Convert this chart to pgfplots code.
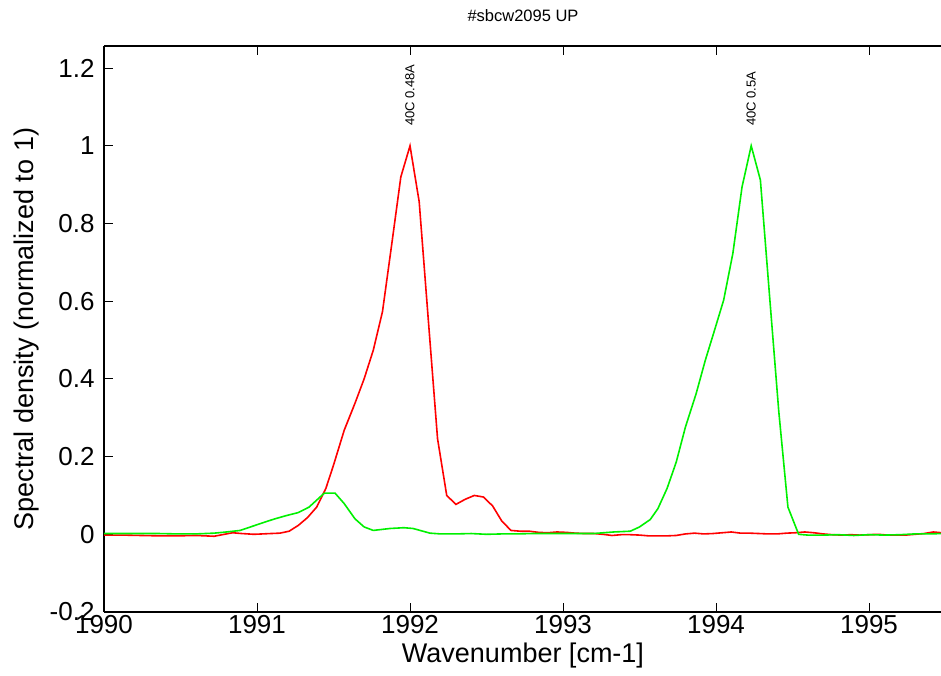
\documentclass[border=0pt]{standalone}
\usepackage{pgfplots}
\pgfplotsset{compat=1.18}
\usepackage{fontspec}
\setmainfont{Liberation Sans}

\definecolor{specred}{RGB}{255,0,0}
\definecolor{specgreen}{RGB}{0,240,0}

\begin{document}
\begin{tikzpicture}
\begin{axis}[
    name=ax,
    scale only axis,
    width=838pt, height=566pt,
    xmin=1990, xmax=1995.477,
    ymin=-0.2, ymax=1.257,
    axis x line=box, axis y line=left,
    axis line style={line width=1.6pt, -},
    y axis line style={-},
    xtick={1990,1991,1992,1993,1994,1995},
    ytick={-0.2,0,0.2,0.4,0.6,0.8,1,1.2},
    tick align=inside,
    major tick length=9pt,
    tick style={line width=0.9pt, black},
    /pgf/number format/1000 sep={},
    /pgf/number format/assume math mode=true,
    tick label style={font=\fontsize{26}{30}\selectfont},
    xticklabel style={yshift=0pt},
    yticklabel style={xshift=-6pt},
    label style={font=\fontsize{27}{32}\selectfont},
    xlabel={Wavenumber [cm-1]},
    ylabel={Spectral density (normalized to 1)},
    xlabel style={at={(axis description cs:0.5,-0.076)}, anchor=center},
    ylabel style={at={(axis description cs:-0.092,0.5)}, anchor=center},
    title={\#sbcw2095 UP},
    every axis title shift=0pt,
    title style={at={(axis description cs:0.5,1.054)}, anchor=center, font=\fontsize{16.5}{19}\selectfont},
    clip=false,
]
% 40C 0.48A
\addplot[specred, line width=1.6pt] coordinates {
(1990.00,-0.002) (1990.12,-0.002) (1990.24,-0.003) (1990.36,-0.004) (1990.48,-0.004)
(1990.60,-0.003) (1990.72,-0.005) (1990.84,0.004) (1990.90,0.002) (1990.98,0.000)
(1991.09,0.002) (1991.15,0.003) (1991.21,0.008) (1991.27,0.023) (1991.33,0.043)
(1991.39,0.070) (1991.45,0.118) (1991.50,0.178) (1991.57,0.268) (1991.64,0.337)
(1991.70,0.400) (1991.76,0.474) (1991.82,0.573) (1991.88,0.745) (1991.94,0.920)
(1992.00,1.000) (1992.06,0.856) (1992.12,0.550) (1992.18,0.246) (1992.24,0.100)
(1992.30,0.077) (1992.36,0.090) (1992.42,0.100) (1992.48,0.096) (1992.54,0.073)
(1992.60,0.034) (1992.66,0.010) (1992.72,0.008) (1992.78,0.008) (1992.84,0.005)
(1992.90,0.004) (1992.96,0.006) (1993.02,0.005) (1993.08,0.003) (1993.14,0.002)
(1993.20,0.002) (1993.26,0.000) (1993.32,-0.003) (1993.38,-0.001) (1993.44,-0.001)
(1993.50,-0.002) (1993.56,-0.004) (1993.62,-0.004) (1993.68,-0.004) (1993.74,-0.003)
(1993.80,0.001) (1993.86,0.003) (1993.92,0.001) (1993.98,0.002) (1994.04,0.004)
(1994.10,0.006) (1994.16,0.003) (1994.22,0.003) (1994.28,0.002) (1994.34,0.001)
(1994.40,0.001) (1994.46,0.003) (1994.52,0.004) (1994.58,0.006) (1994.64,0.004)
(1994.70,0.001) (1994.76,-0.001) (1994.82,-0.002) (1994.88,-0.001) (1994.94,-0.002)
(1995.00,-0.001) (1995.06,0.000) (1995.12,-0.002) (1995.18,-0.002) (1995.24,-0.002)
(1995.30,0.000) (1995.36,0.002) (1995.42,0.006) (1995.477,0.004)
};
% 40C 0.5A
\addplot[specgreen, line width=1.6pt] coordinates {
(1990.00,0.002) (1990.12,0.002) (1990.24,0.002) (1990.36,0.002) (1990.48,0.001)
(1990.60,0.001) (1990.72,0.003) (1990.80,0.006) (1990.89,0.010) (1990.95,0.018)
(1991.04,0.030) (1991.11,0.039) (1991.19,0.048) (1991.27,0.056) (1991.34,0.070)
(1991.44,0.106) (1991.51,0.106) (1991.57,0.079) (1991.64,0.040) (1991.70,0.019)
(1991.76,0.010) (1991.87,0.015) (1991.96,0.017) (1992.02,0.015) (1992.13,0.003)
(1992.20,0.001) (1992.30,0.001) (1992.40,0.002) (1992.50,0.000) (1992.60,0.001)
(1992.70,0.001) (1992.80,0.002) (1992.90,0.002) (1993.00,0.002) (1993.10,0.002)
(1993.20,0.002) (1993.33,0.006) (1993.44,0.008) (1993.50,0.019) (1993.57,0.038)
(1993.62,0.066) (1993.68,0.118) (1993.74,0.186) (1993.80,0.276) (1993.87,0.362)
(1993.93,0.448) (1993.99,0.525) (1994.05,0.603) (1994.11,0.723) (1994.17,0.894)
(1994.23,1.000) (1994.29,0.912) (1994.35,0.613) (1994.41,0.317) (1994.47,0.070)
(1994.54,0.000) (1994.60,-0.002) (1994.70,-0.002) (1994.80,-0.001) (1994.90,-0.003)
(1995.00,-0.001) (1995.10,-0.002) (1995.20,-0.001) (1995.30,0.001) (1995.40,0.001)
(1995.477,0.002)
};
\node[rotate=90, anchor=west, inner sep=0pt, font=\fontsize{13}{15}\selectfont]
    at (axis cs:1992,1.051) {40C 0.48A};
\node[rotate=90, anchor=west, inner sep=0pt, font=\fontsize{13}{15}\selectfont]
    at (axis cs:1994.23,1.051) {40C 0.5A};
\end{axis}
\pgfresetboundingbox
\path[use as bounding box] ([shift={(-104pt,-63pt)}]ax.south west) rectangle ([shift={(-1pt,46pt)}]ax.north east);
\end{tikzpicture}
\end{document}
